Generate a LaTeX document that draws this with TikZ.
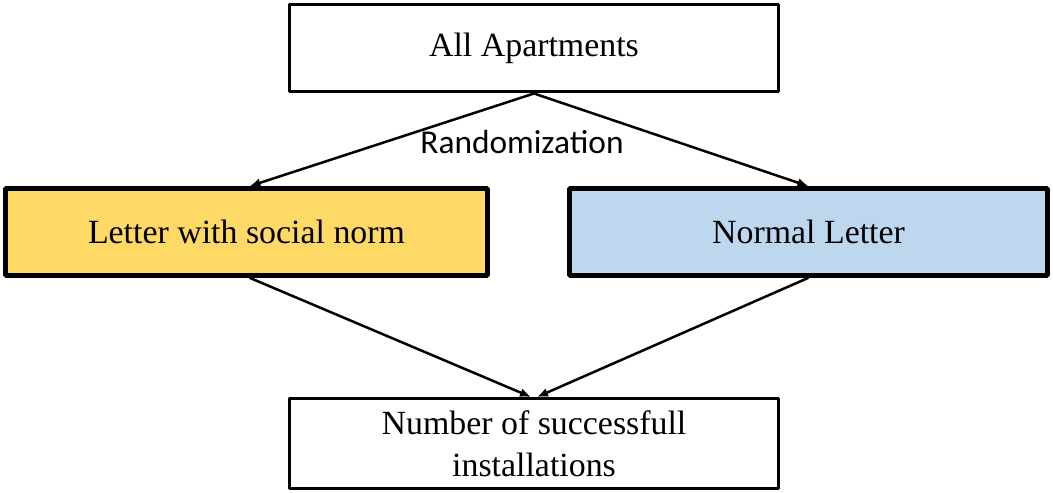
\documentclass[tikz,border=0pt]{standalone}
\usepackage{fontspec}
\setmainfont{Liberation Serif}
\newfontfamily\calibrifont{Carlito}
\usetikzlibrary{arrows.meta}
\definecolor{normyellow}{HTML}{FFD966}
\definecolor{plainblue}{HTML}{BDD7EE}
\begin{document}
\begin{tikzpicture}[>={Latex[length=11bp,width=9bp]},line join=bevel,
  box/.style={draw=black,line width=3bp,inner sep=0pt,align=center,
    font=\fontsize{34}{42}\selectfont},
  armbox/.style={box,line width=4.5bp,minimum width=482bp,minimum height=87bp}]
%%
\useasboundingbox (0bp,0bp) rectangle (1053bp,493bp);
\node (node_0) at (534bp,444.5bp) [box,minimum width=489bp,minimum height=87bp] {All Apartments};
  \node (node_1) at (246.5bp,261bp) [armbox,fill=normyellow] {Letter with social norm};
  \node (node_2) at (808.5bp,261bp) [armbox,minimum width=478bp,fill=plainblue] {Normal Letter};
  \node (node_3) at (534bp,49.5bp) [box,minimum width=489bp,minimum height=90bp] {Number of successfull\\installations};
  \node (node_4) at (522bp,351bp) [font=\calibrifont\fontsize{33.5}{40}\selectfont] {Randomization};
  \draw [black,line width=2.5bp,->] (node_0.south) -- ([xshift=3bp]node_1.north);
  \draw [black,line width=2.5bp,->] (node_0.south) -- (node_2.north);
  \draw [black,line width=2.5bp,->] ([xshift=3bp]node_1.south) -- ([xshift=-3bp]node_3.north);
  \draw [black,line width=2.5bp,->] (node_2.south) -- ([xshift=3bp]node_3.north);
%
\end{tikzpicture}
\end{document}
